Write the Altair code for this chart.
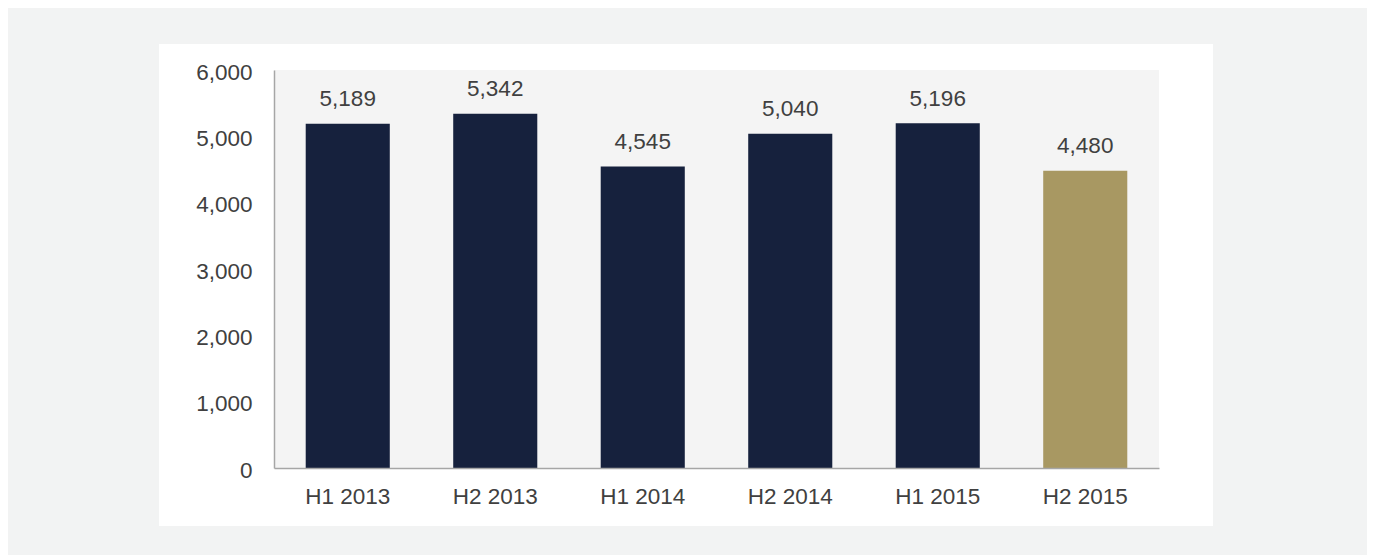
import altair as alt
import pandas as pd

periods = ["H1 2013", "H2 2013", "H1 2014", "H2 2014", "H1 2015", "H2 2015"]
values = [5189, 5342, 4545, 5040, 5196, 4480]
highlight = ["base", "base", "base", "base", "base", "latest"]

df = pd.DataFrame({"period": periods, "value": values, "kind": highlight})

W, H = 885, 398
FONT = "Liberation Sans"
TXT = "#404040"
FS = 22.5

x_enc = alt.X("period:N", sort=periods, title=None,
              scale=alt.Scale(paddingInner=0.43, paddingOuter=0.215),
              axis=alt.Axis(labelAngle=0, labelFont=FONT, labelFontSize=FS,
                            labelColor=TXT, labelPadding=17.5, ticks=False,
                            domainColor="#a6a6a6", domainWidth=1.5, zindex=2))
y_enc = alt.Y("value:Q", title=None,
              scale=alt.Scale(domain=[0, 6000], nice=False),
              axis=alt.Axis(values=[0, 1000, 2000, 3000, 4000, 5000, 6000],
                            format=",.0f", labelFont=FONT, labelFontSize=FS,
                            labelColor=TXT, labelPadding=22, labelOffset=2,
                            ticks=False, grid=False, domainColor="#a6a6a6",
                            domainWidth=1.5, zindex=2))

panel_df = pd.DataFrame({"k": [0]})
white_panel = alt.Chart(panel_df).mark_rect(color="#ffffff", clip=False).encode(
    x=alt.value(-115), x2=alt.value(939), y=alt.value(-26), y2=alt.value(456))
plot_bg = alt.Chart(panel_df).mark_rect(color="#f4f4f4").encode(
    x=alt.value(0), x2=alt.value(W), y=alt.value(0), y2=alt.value(H))

bars = alt.Chart(df).mark_bar().encode(
    x=x_enc, y=y_enc,
    color=alt.Color("kind:N", legend=None,
                    scale=alt.Scale(domain=["base", "latest"],
                                    range=["#16213d", "#a89862"])))
labels = alt.Chart(df).mark_text(baseline="bottom", dy=-12.5, font=FONT,
                                 fontSize=FS, color=TXT).encode(
    x=alt.X("period:N", sort=periods), y="value:Q",
    text=alt.Text("value:Q", format=",.0f"))

chart = alt.layer(white_panel, plot_bg, bars, labels).properties(
    width=W, height=H,
    padding={"left": 266, "top": 62, "right": 208, "bottom": 87},
    autosize=alt.AutoSizeParams(type="none"),
    background="#f2f3f3",
).configure_view(stroke=None)

chart.save("out.html", embed_options={"renderer": "svg", "actions": False})
